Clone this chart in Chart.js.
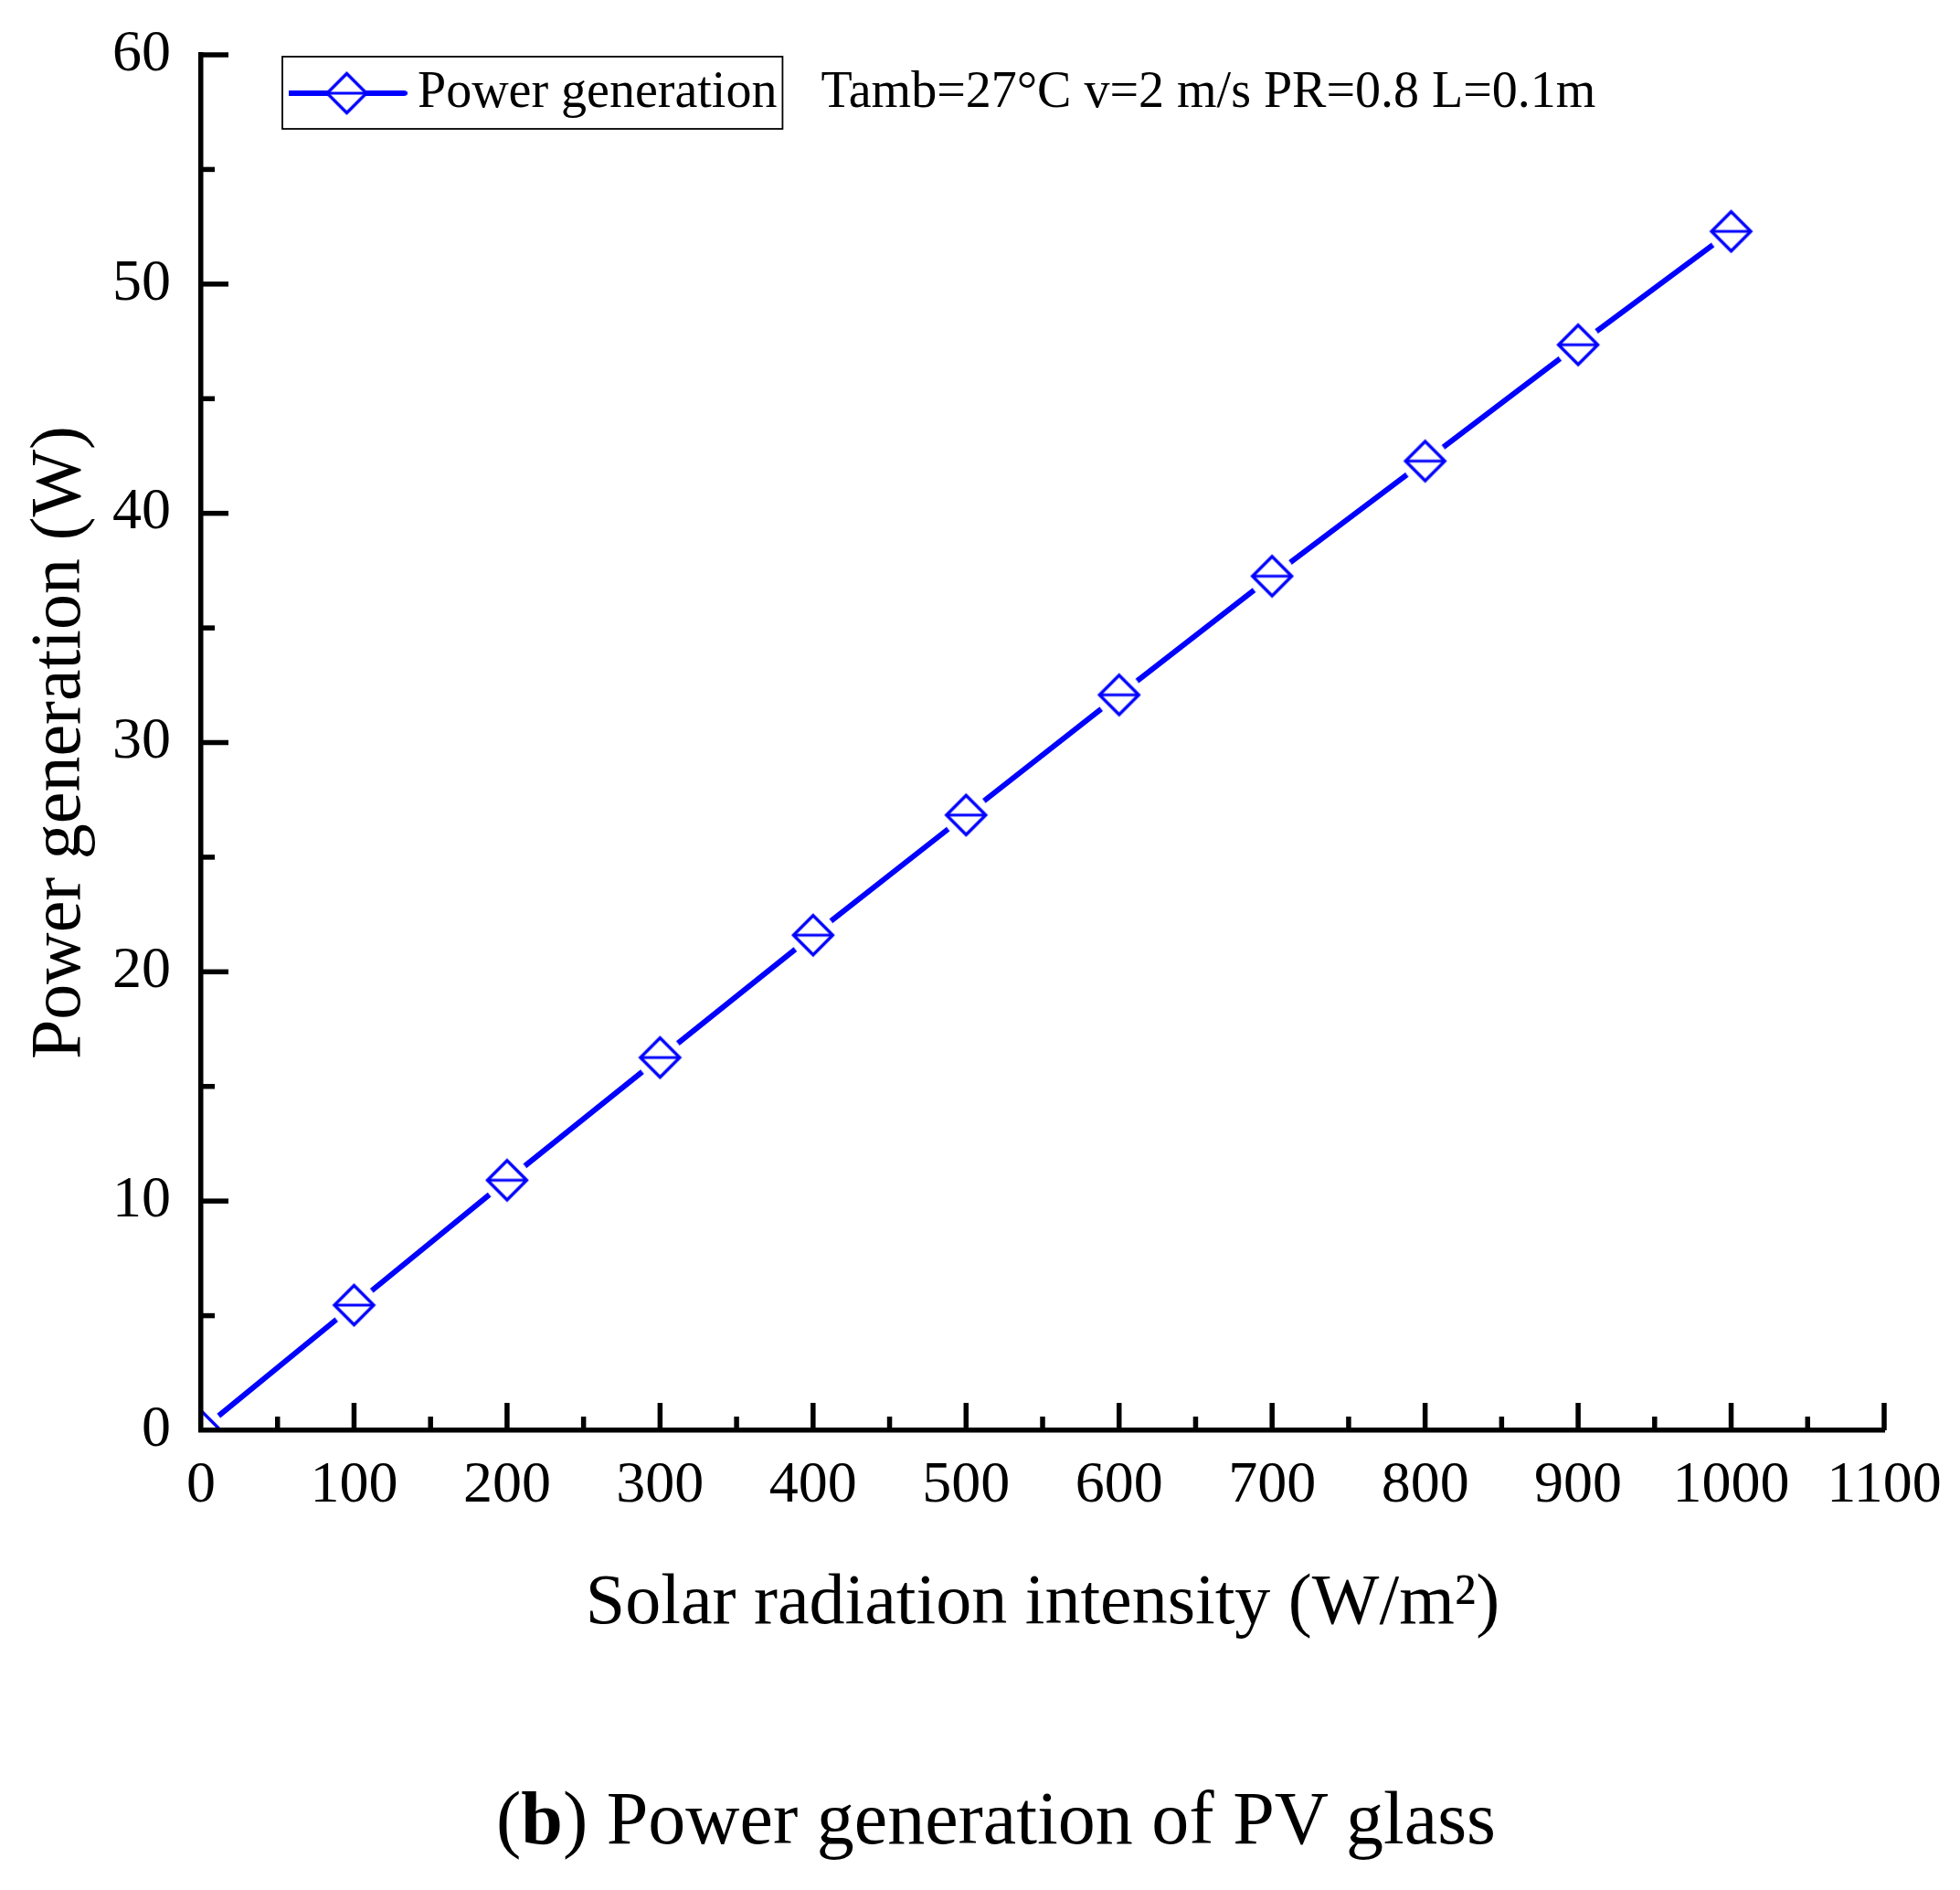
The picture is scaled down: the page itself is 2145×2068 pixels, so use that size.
<!DOCTYPE html>
<html>
<head>
<meta charset="utf-8">
<script src="https://cdn.jsdelivr.net/npm/chart.js@4.4.1/dist/chart.umd.min.js"></script>
<style>
  html, body { margin: 0; padding: 0; background: #ffffff; overflow: hidden; }
  #wrap { position: relative; width: 2145px; height: 2068px; background: #ffffff; }
  canvas { display: block; }
  #caption {
    position: absolute; left: 1090px; top: 1949px; transform: translateX(-50%);
    font-family: 'Liberation Serif', 'Times New Roman', serif; font-size: 82px; line-height: 1;
    white-space: nowrap; color: #000;
  }
</style>
</head>
<body>
<div id="wrap">
  <canvas id="c" width="2145" height="2068"></canvas>
  <div id="caption">(<b>b</b>) Power generation of PV glass</div>
</div>
<script>
// ---- data ----
const irradiance = [0, 100, 200, 300, 400, 500, 600, 700, 800, 900, 1000];
const powerGeneration = [0, 5.46, 10.91, 16.26, 21.6, 26.84, 32.08, 37.26, 42.28, 47.35, 52.3];
const seriesLabel = 'Power generation';
const conditionNote = 'Tamb=27°C v=2 m/s PR=0.8 L=0.1m';
const xAxisTitle = 'Solar radiation intensity (W/m²)';
const yAxisTitle = 'Power generation (W)';
const xRange = [0, 1100];
const xMajorStep = 100;
const xMinorStep = 50;
const yRange = [0, 60];
const yMajorStep = 10;
const yMinorStep = 5;

// ---- style ----
const BLUE = '#0000ff';
const FONT = "'Liberation Serif', 'Times New Roman', serif";

function drawDiamond(g, cx, cy, r) {
  g.fillStyle = '#ffffff';
  g.beginPath();
  g.moveTo(cx, cy - r); g.lineTo(cx + r, cy); g.lineTo(cx, cy + r); g.lineTo(cx - r, cy);
  g.closePath();
  g.fill();
  g.strokeStyle = BLUE; g.lineWidth = 3.4; g.lineJoin = 'miter';
  g.stroke();
  g.lineWidth = 2.8;
  g.beginPath(); g.moveTo(cx - r, cy); g.lineTo(cx + r, cy); g.stroke();
}

function markerImage() {
  const s = 64, c = document.createElement('canvas');
  c.width = s; c.height = s;
  const g = c.getContext('2d');
  g.fillStyle = '#ffffff';
  g.beginPath(); g.arc(s / 2, s / 2, 25, 0, Math.PI * 2); g.fill();
  drawDiamond(g, s / 2, s / 2, 21.5);
  return c;
}

function legendImage() {
  const w = 132, h = 52, c = document.createElement('canvas');
  c.width = w; c.height = h;
  const g = c.getContext('2d');
  g.strokeStyle = BLUE; g.lineWidth = 6; g.lineCap = 'round';
  g.beginPath(); g.moveTo(3, h / 2); g.lineTo(w - 3, h / 2); g.stroke();
  drawDiamond(g, w / 2, h / 2, 21.5);
  return c;
}

const legendFrame = {
  id: 'legendFrame',
  afterLayout(chart) {
    const lg = chart.legend;
    if (!lg) return;
    const a = chart.chartArea;
    const h = lg.height;
    lg.left = a.left + 96; lg.right = lg.left + lg.width;
    lg.top = a.top; lg.bottom = a.top + h;
  },
  afterDraw(chart) {
    const lg = chart.legend;
    if (!lg || !lg.legendHitBoxes || !lg.legendHitBoxes.length) return;
    const hb = lg.legendHitBoxes[0];
    const ctx = chart.ctx;
    const x0 = hb.left - 21, y0 = hb.top - 12;
    const x1 = hb.left + hb.width + 6, y1 = hb.top + hb.height + 11;
    ctx.save();
    ctx.strokeStyle = '#000'; ctx.lineWidth = 1.8;
    ctx.strokeRect(x0, y0, x1 - x0, y1 - y0);
    ctx.font = '56px ' + FONT;
    ctx.fillStyle = '#000'; ctx.textAlign = 'left'; ctx.textBaseline = 'middle';
    ctx.fillText(conditionNote, x1 + 42, hb.top + hb.height / 2);
    ctx.restore();
  }
};

const inwardTicks = {
  id: 'inwardTicks',
  afterDraw(chart) {
    const { ctx, chartArea: a, scales: { x, y } } = chart;
    ctx.save();
    ctx.strokeStyle = '#000'; ctx.lineWidth = 5.5; ctx.lineCap = 'butt';
    x.ticks.forEach(t => {
      if (t.value === xRange[0]) return;
      const px = x.getPixelForValue(t.value);
      const len = t.value % xMajorStep === 0 ? 30 : 15;
      ctx.beginPath(); ctx.moveTo(px, a.bottom); ctx.lineTo(px, a.bottom - len); ctx.stroke();
    });
    y.ticks.forEach(t => {
      if (t.value === yRange[0]) return;
      const py = y.getPixelForValue(t.value);
      const len = t.value % yMajorStep === 0 ? 30 : 15;
      ctx.beginPath(); ctx.moveTo(a.left, py); ctx.lineTo(a.left + len, py); ctx.stroke();
    });
    ctx.restore();
  }
};

new Chart(document.getElementById('c'), {
  type: 'line',
  data: {
    datasets: [{
      label: seriesLabel,
      data: irradiance.map((v, i) => ({ x: v, y: powerGeneration[i] })),
      borderColor: BLUE,
      backgroundColor: '#ffffff',
      borderWidth: 6,
      borderCapStyle: 'round',
      pointStyle: markerImage(),
      pointRadius: 22,
      pointHoverRadius: 22,
      tension: 0,
      fill: false,
      clip: 0
    }]
  },
  options: {
    responsive: false,
    animation: false,
    events: [],
    devicePixelRatio: 1,
    layout: { padding: { left: 0, right: 83, top: 60, bottom: 0 } },
    plugins: {
      legend: {
        position: 'chartArea',
        align: 'start',
        labels: {
          usePointStyle: true,
          pointStyle: legendImage(),
          pointStyleWidth: 99,
          padding: 14,
          color: '#000',
          font: { family: FONT, size: 56 }
        }
      },
      tooltip: { enabled: false },
      title: { display: false }
    },
    scales: {
      x: {
        type: 'linear',
        position: 'bottom',
        min: xRange[0], max: xRange[1],
        grid: { display: false, drawTicks: false },
        border: { display: true, color: '#000', width: 5.5, z: 1 },
        ticks: {
          stepSize: xMinorStep, autoSkip: false, maxRotation: 0, minRotation: 0,
          padding: 23, color: '#000', z: 1,
          font: { family: FONT, size: 64 },
          callback: v => (v % xMajorStep === 0 ? String(v) : '')
        },
        title: {
          display: true, text: xAxisTitle, color: '#000',
          font: { family: FONT, size: 78 },
          padding: { top: 0, bottom: 266 }
        },
        afterFit(s) { s.height = 503; s.paddingLeft = 0; s.paddingRight = 0; }
      },
      y: {
        type: 'linear',
        position: 'left',
        min: yRange[0], max: yRange[1],
        grid: { display: false, drawTicks: false },
        border: { display: true, color: '#000', width: 5.5, z: 1 },
        ticks: {
          stepSize: yMinorStep, autoSkip: false,
          padding: 33, color: '#000', z: 1,
          font: { family: FONT, size: 64 },
          callback: v => (v % yMajorStep === 0 ? String(v) : '')
        },
        title: {
          display: true, text: yAxisTitle, color: '#000',
          font: { family: FONT, size: 78 },
          padding: { top: 20, bottom: 0 }
        },
        afterFit(s) { s.width = 220; s.paddingTop = 0; s.paddingBottom = 0; }
      }
    }
  },
  plugins: [legendFrame, inwardTicks]
});
</script>
</body>
</html>
